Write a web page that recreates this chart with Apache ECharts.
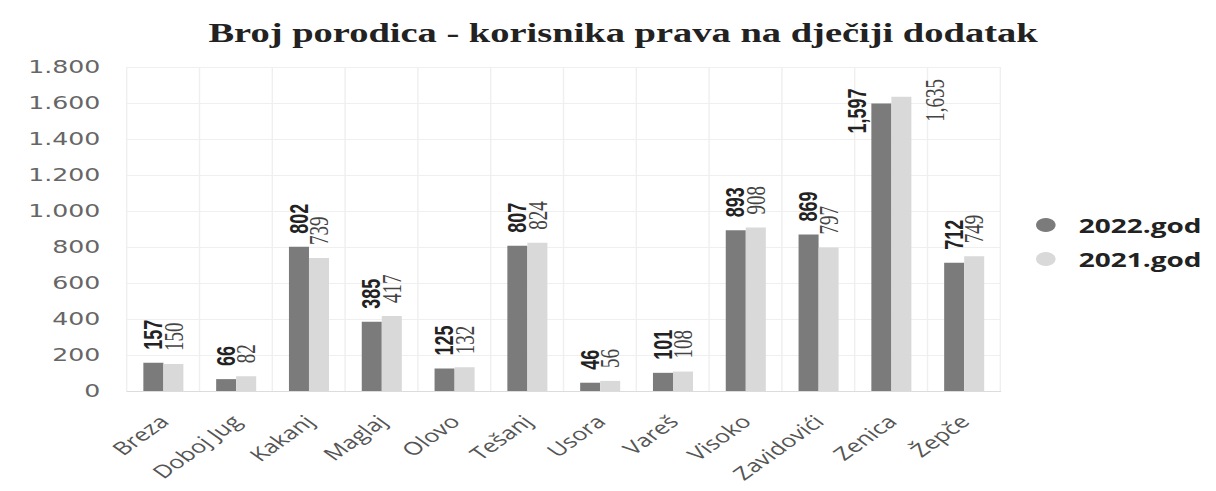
<!DOCTYPE html>
<html><head><meta charset="utf-8">
<script src="https://cdn.jsdelivr.net/npm/echarts@6/dist/echarts.min.js"></script>
<style>
html,body{margin:0;padding:0;background:#fff;overflow:hidden}
#wrap{width:1216px;height:491px;overflow:hidden}
#c{width:868.57px;height:491px;transform:scaleX(1.4);transform-origin:0 0}
</style>
</head><body><div id="wrap"><div id="c"></div></div>
<script>
const categories = ['Breza','Doboj Jug','Kakanj','Maglaj','Olovo','Tešanj','Usora','Vareš','Visoko','Zavidovići','Zenica','Žepče'];
const values2022 = [157,66,802,385,125,807,46,101,893,869,1597,712];
const values2021 = [150,82,739,417,132,824,56,108,908,797,1635,749];
const yTicks = [0,200,400,600,800,1000,1200,1400,1600,1800];

function fmtY(v){ return v>=1000 ? String(v).replace(/\B(?=(\d{3})+(?!\d))/g,'.') : String(v); }
function fmtLbl(v){ return v>=1000 ? String(v).replace(/\B(?=(\d{3})+(?!\d))/g,',') : String(v); }
const maxV = yTicks[yTicks.length-1];

function build(vals, side){
  return vals.map(v => {
    if (v > 1500) {
      return {value:v, label:{position: side==='l' ? [-10, 30] : [31, 25], align:'left', verticalAlign:'middle'}};
    }
    return {value:v};
  });
}

const chart = echarts.init(document.getElementById('c'), null, {renderer:'svg'});
chart.setOption({
  backgroundColor:'#fff',
  animation:false,
  title:{text:'Broj porodica - korisnika prava na dječiji dodatak', left:440, top:14, textAlign:'center',
    textStyle:{fontFamily:'Liberation Serif', fontWeight:'bold', fontSize:27.5, color:'#222'}},
  legend:{orient:'vertical', left:735, top:210, itemGap:14, itemWidth:21, itemHeight:14, icon:'circle',
    textStyle:{fontFamily:'Open Sans', fontWeight:'bold', fontSize:20, color:'#222', padding:[0,0,0,8]}},
  grid:{left:90.7, right:154.3, top:67, bottom:100},
  xAxis:{type:'category', data:categories,
    axisLine:{lineStyle:{color:'#dcdcdc'}}, axisTick:{show:false},
    splitLine:{show:true, lineStyle:{color:'#efefef'}},
    axisLabel:{rotate:45, interval:0, margin:27, fontFamily:'Open Sans', fontSize:18, color:'#555'}},
  yAxis:{type:'value', min:0, max:maxV, interval:200,
    axisLine:{show:false}, axisTick:{show:false},
    splitLine:{lineStyle:{color:'#efefef'}},
    axisLabel:{margin:19, formatter:fmtY, fontFamily:'DejaVu Sans', fontSize:18, color:'#666'}},
  series:[
    {name:'2022.god', type:'bar', data:build(values2022,'l'), barWidth:14.3, barGap:'0%',
      itemStyle:{color:'#7b7b7b'},
      label:{show:true, position:'top', rotate:90, distance:13, align:'left', verticalAlign:'middle',
        formatter:p=>fmtLbl(p.value), fontFamily:'Liberation Sans', fontWeight:'bold', fontSize:18, color:'#222'}},
    {name:'2021.god', type:'bar', data:build(values2021,'r'), barWidth:14.3,
      itemStyle:{color:'#d9d9d9'},
      label:{show:true, position:'top', rotate:90, distance:13, align:'left', verticalAlign:'middle',
        formatter:p=>fmtLbl(p.value), fontFamily:'Liberation Serif', fontSize:19, color:'#444'}}
  ]
});
</script></body></html>
